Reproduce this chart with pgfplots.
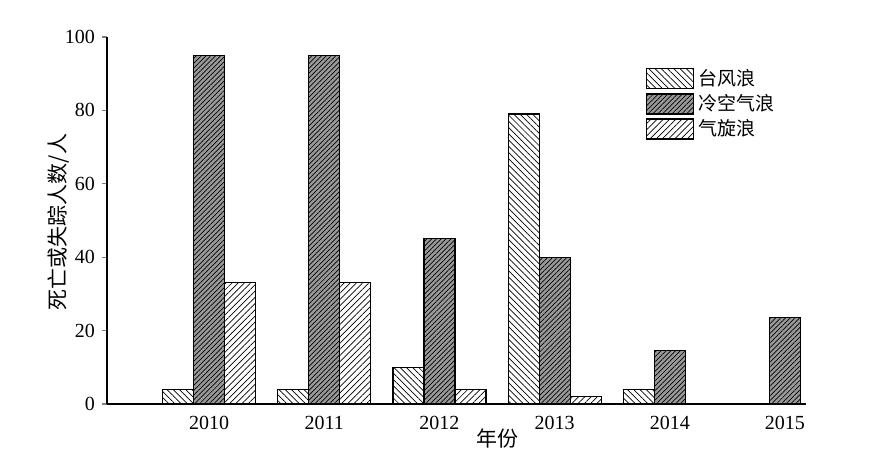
\documentclass[border=0pt]{standalone}
\usepackage{fontspec}
\setmainfont{Liberation Serif}
\newfontfamily\cjk{Noto Sans CJK SC}
\usepackage{pgfplots}
\pgfplotsset{compat=1.18}
\usetikzlibrary{patterns.meta}

\pgfplotsset{
  typhoon/.style={draw=black, line width=0.6pt, fill=white,
    postaction={pattern={Lines[angle=-45,distance=2.2pt,line width=0.35pt]}}},
  coldair/.style={draw=black, line width=0.6pt, fill=black!40,
    postaction={pattern={Lines[angle=45,distance=1.7pt,line width=0.35pt]}}},
  cyclone/.style={draw=black, line width=0.6pt, fill=white,
    postaction={pattern={Lines[angle=45,distance=2.2pt,line width=0.35pt]}}},
}

\begin{document}
\begin{tikzpicture}
\begin{axis}[
    at={(0,0)}, anchor=south west,
    scale only axis,
    width=349.5pt, height=183.5pt,
    ybar=0pt, bar width=15.5pt,
    xmin=-0.887, xmax=5.183,
    ymin=0, ymax=100,
    axis x line*=bottom, axis y line*=left,
    axis line style={line width=0.8pt},
    xtick={0,1,2,3,4,5},
    xticklabels={2010,2011,2012,2013,2014,2015},
    xtick style={draw=none},
    ytick={0,20,40,60,80,100},
    tick pos=left, tick align=outside,
    major tick length=2.5pt,
    ytick style={line width=0.6pt},
    tick label style={font=\fontsize{10}{11}\selectfont},
    /pgf/number format/assume math mode=true,
    xlabel={\cjk 年份},
    ylabel={\cjk 死亡或失踪人数/人},
    label style={font=\fontsize{10.5}{12}\selectfont},
    xlabel style={at={(rel axis cs:0.558,-0.093)}, anchor=center},
    ylabel style={at={(rel axis cs:-0.07,0.496)}, anchor=center},
    legend style={draw=none, fill=none, at={(rel axis cs:0.762,0.935)}, anchor=north west,
      font=\fontsize{9.5}{11}\selectfont\cjk, row sep=-1pt,
      /tikz/every even column/.append style={column sep=2pt}},
    legend cell align=left,
    legend image code/.code={\draw[#1] (0pt,-5pt) rectangle (23.5pt,5pt);},
  ]
  \addplot[typhoon] coordinates {(0,4) (1,4) (2,10) (3,79) (4,4)};
  \addplot[coldair] coordinates {(0,95) (1,95) (2,45) (3,40) (4,14.5) (5,23.5)};
  \addplot[cyclone] coordinates {(0,33) (1,33.2) (2,4) (3,2)};
  \legend{台风浪,冷空气浪,气旋浪}
\end{axis}
\pgfresetboundingbox
\path[use as bounding box] (-53.5pt,-27.5pt) rectangle (387pt,202pt);
\end{tikzpicture}
\end{document}
